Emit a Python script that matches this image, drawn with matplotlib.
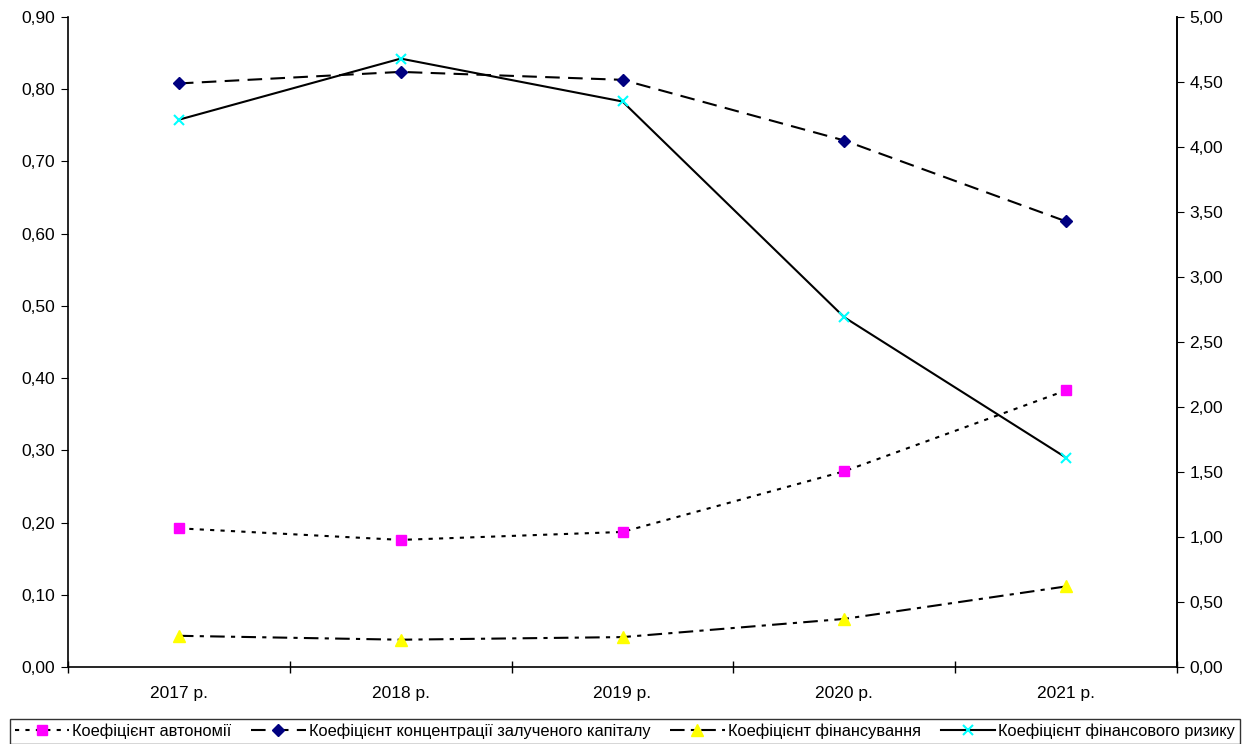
import matplotlib
matplotlib.use("Agg")
import matplotlib.pyplot as plt
from matplotlib.ticker import FixedLocator, FuncFormatter, NullFormatter

plt.rcParams['font.family'] = ['Liberation Sans', 'DejaVu Sans']

years = ["2017 р.", "2018 р.", "2019 р.", "2020 р.", "2021 р."]
autonomy = [0.192, 0.176, 0.187, 0.271, 0.383]
concentration = [0.808, 0.824, 0.813, 0.729, 0.617]
financing = [0.24, 0.21, 0.23, 0.37, 0.62]
fin_risk = [4.21, 4.68, 4.35, 2.69, 1.61]

labels = ["Коефіцієнт автономії",
          "Коефіцієнт концентрації залученого капіталу",
          "Коефіцієнт фінансування",
          "Коефіцієнт фінансового ризику"]

fig = plt.figure(figsize=(12.43, 7.44), dpi=100)
ax = fig.add_axes([68 / 1243, 77 / 744, 1109 / 1243, 650 / 744])
ax2 = ax.twinx()

x = list(range(len(years)))

l1, = ax.plot(x, autonomy, color="black", lw=1.5, linestyle=(0, (2, 3)),
              marker="s", markersize=7.5, markerfacecolor="#FF00FF",
              markeredgecolor="#FF00FF", label=labels[0])
l2, = ax.plot(x, concentration, color="black", lw=1.5, linestyle=(0, (7, 4)),
              marker="D", markersize=6.5, markerfacecolor="#000080",
              markeredgecolor="#000080", label=labels[1])
l3, = ax2.plot(x, financing, color="black", lw=1.5, linestyle=(0, (7, 3, 2, 3)),
               marker="^", markersize=8, markerfacecolor="#FFFF00",
               markeredgecolor="#FFFF00", label=labels[2])
l4, = ax2.plot(x, fin_risk, color="black", lw=1.5, linestyle="-",
               marker="x", markersize=7, markeredgecolor="#00FFFF",
               markeredgewidth=1.5, label=labels[3])

ax.set_xlim(-0.5, len(years) - 0.5)
ax.set_ylim(0, 0.9)
ax2.set_ylim(0, 5.0)

comma = lambda fmt: FuncFormatter(lambda v, p: (fmt % v).replace(".", ","))
ax.yaxis.set_major_locator(FixedLocator([i / 10 for i in range(10)]))
ax.yaxis.set_major_formatter(comma("%.2f"))
ax2.yaxis.set_major_locator(FixedLocator([i / 2 for i in range(11)]))
ax2.yaxis.set_major_formatter(comma("%.2f"))

ax.xaxis.set_major_locator(FixedLocator([i - 0.5 for i in range(len(years) + 1)]))
ax.xaxis.set_major_formatter(NullFormatter())
ax.xaxis.set_minor_locator(FixedLocator(x))
ax.set_xticklabels(years, minor=True)
ax.tick_params(axis="x", which="major", direction="inout", length=9, width=1)
ax.tick_params(axis="x", which="minor", length=0, labelsize=12.5, pad=14)
ax.tick_params(axis="y", direction="out", length=5, labelsize=12.5, pad=4)
ax2.tick_params(axis="y", direction="out", length=5, labelsize=12.5, pad=4)

for a in (ax, ax2):
    a.spines["top"].set_visible(False)
    for s in a.spines.values():
        s.set_linewidth(1.2)
ax2.spines["left"].set_visible(False)
ax2.spines["bottom"].set_visible(False)

leg = fig.legend(handles=[l1, l2, l3, l4], loc="lower left",
                 bbox_to_anchor=(10 / 1243, 0 / 744, 1230 / 1243, 26 / 744),
                 mode="expand", ncol=4, fontsize=11.8, frameon=True,
                 fancybox=False, handlelength=3.3, handletextpad=0.2,
                 columnspacing=0.8, borderpad=0.3, borderaxespad=0)
leg.get_frame().set_edgecolor("black")
leg.get_frame().set_linewidth(1.0)

fig.savefig("out.png", dpi=100)
